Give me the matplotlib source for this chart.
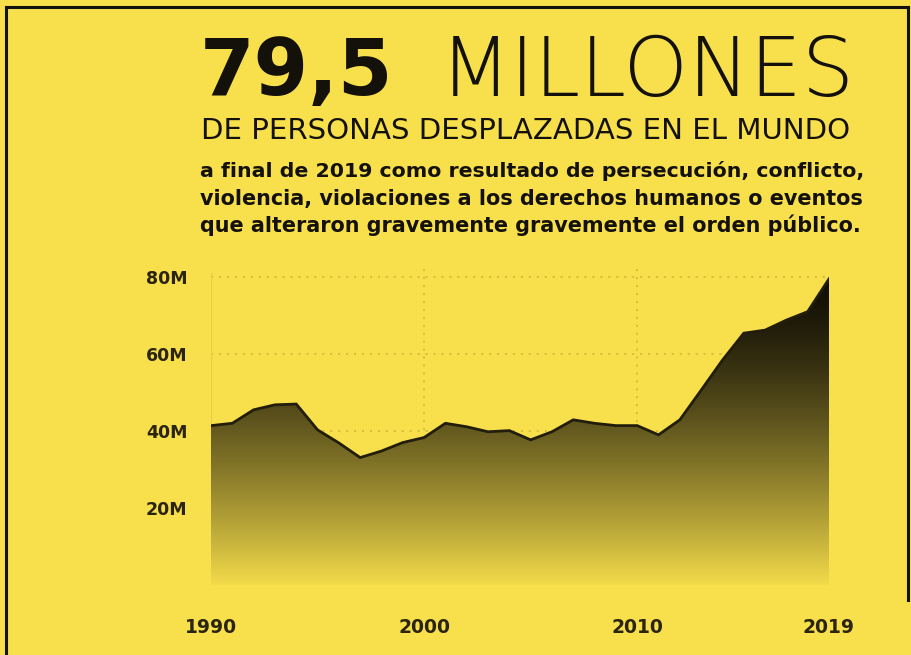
import numpy as np
import matplotlib
matplotlib.use("Agg")
import matplotlib.pyplot as plt
from matplotlib.patches import Polygon
from matplotlib.lines import Line2D

# ---------------- data ----------------
years = [1990, 1991, 1992, 1993, 1994, 1995, 1996, 1997, 1998, 1999,
         2000, 2001, 2002, 2003, 2004, 2005, 2006, 2007, 2008, 2009,
         2010, 2011, 2012, 2013, 2014, 2015, 2016, 2017, 2018, 2019]
displaced_m = [41.4, 42.0, 45.5, 46.8, 47.0, 40.3, 36.9, 33.1, 34.8, 37.0,
               38.3, 42.0, 41.1, 39.8, 40.1, 37.7, 39.8, 42.9, 42.0, 41.4,
               41.4, 39.0, 42.9, 50.6, 58.4, 65.4, 66.2, 68.8, 71.0, 79.5]
y_ticks = [20, 40, 60, 80]
y_labels = ["20M", "40M", "60M", "80M"]
x_ticks = [1990, 2000, 2010, 2019]
x_labels = ["1990", "2000", "2010", "2019"]

title_num = "79,5"
title_word = "MILLONES"
subtitle = "DE PERSONAS DESPLAZADAS EN EL MUNDO"
body = ["a final de 2019 como resultado de persecución, conflicto,",
        "violencia, violaciones a los derechos humanos o eventos",
        "que alteraron gravemente gravemente el orden público."]

# ---------------- style ----------------
BG = "#F8E04C"
INK = "#14110a"
W, H = 912, 655
WIDE = ["DejaVu Sans"]

fig = plt.figure(figsize=(W / 100, H / 100), dpi=100)
fig.patch.set_facecolor(BG)

def fx(px):
    return px / W

def fy(py):
    return 1 - py / H

# axes: x 1990 -> px 211, 2019 -> px 829 ; y 0 -> px 585, 84 -> px 261.6
ymax = 84
ax_l, ax_r = 211, 829
ax_b = 585
ax_t = 585 - ymax * 3.85
ax = fig.add_axes([fx(ax_l), fy(ax_b), fx(ax_r) - fx(ax_l), (ax_b - ax_t) / H])
ax.set_facecolor("none")
ax.set_xlim(1990, 2019)
ax.set_ylim(0, ymax)
for s in ax.spines.values():
    s.set_visible(False)

# grid
grid_c = "#d4bd3a"
for v in [40, 60, 80]:
    ax.plot([1990, 2019], [v, v], color=grid_c, lw=1.3, ls=(0, (1.2, 3.2)), zorder=1)
for xv in [2000, 2010]:
    ax.plot([xv, xv], [-1, 83], color=grid_c, lw=1.3, ls=(0, (1.2, 3.2)), zorder=1)
ax.plot([1990, 1990], [-1, 81], color="#e6cf45", lw=1.0, zorder=1)

# gradient fill clipped to the area under the curve
yy = np.linspace(0, 80, 400)
f = (1 - yy / 80.0) ** 1.4
bg_rgb = np.array(matplotlib.colors.to_rgb(BG))
top_rgb = np.array(matplotlib.colors.to_rgb("#100d05"))
cols = top_rgb[None, :] + (bg_rgb - top_rgb)[None, :] * f[:, None]
img = np.repeat(cols[:, None, :], 2, axis=1)
im = ax.imshow(img, extent=[1990, 2019, -1.3, 80], origin="lower",
               aspect="auto", interpolation="bilinear", zorder=2)
clip = Polygon([(years[0], -1.3)] + list(zip(years, displaced_m)) + [(years[-1], -1.3)],
               closed=True, facecolor="none", edgecolor="none", transform=ax.transData)
ax.add_patch(clip)
im.set_clip_path(clip)
ax.plot(years, displaced_m, color="#221d0c", lw=2.0, zorder=3, solid_joinstyle="miter")

# ticks
ax.set_yticks(y_ticks)
ax.set_yticklabels(y_labels)
ax.set_xticks(x_ticks)
ax.set_xticklabels(x_labels)
ax.tick_params(axis="both", length=0, labelcolor="#2b2410")
ax.tick_params(axis="y", pad=17)
ax.tick_params(axis="x", pad=24)
for lab in ax.get_yticklabels():
    lab.set_fontfamily(WIDE)
    lab.set_fontweight("bold")
    lab.set_fontsize(12.5)
for lab in ax.get_xticklabels():
    lab.set_fontfamily(WIDE)
    lab.set_fontweight("bold")
    lab.set_fontsize(13.5)

# ---------------- texts, fitted to target widths ----------------
def fit_text(x0, x1, base_y, s, weight, size, family, color=INK):
    t = fig.text(fx(x0), fy(base_y), s, ha="left", va="baseline",
                 fontsize=size, fontweight=weight, family=family, color=color)
    fig.canvas.draw()
    bb = t.get_window_extent()
    t.set_fontsize(size * (x1 - x0) / bb.width)
    return t

fit_text(200, 394, 95, title_num, "bold", 60, WIDE)
fit_text(440, 855, 96, title_word, 200, 60, ["DejaVu Sans"])
fit_text(201, 854, 139, subtitle, "normal", 18, WIDE)
fit_text(200, 858, 177, body[0], "bold", 13, WIDE)
fit_text(200, 858, 205, body[1], "bold", 13, WIDE)
fit_text(200, 858, 232, body[2], "bold", 13, WIDE)

# outer frame (top, left, right)
frame_kw = dict(color="#111111", lw=2.2, transform=fig.transFigure)
fig.add_artist(Line2D([fx(6), fx(908)], [fy(7), fy(7)], **frame_kw))
fig.add_artist(Line2D([fx(6), fx(6)], [fy(7), fy(655)], **frame_kw))
fig.add_artist(Line2D([fx(908), fx(908)], [fy(7), fy(600)], **frame_kw))

fig.savefig("out.png", dpi=100, facecolor=BG)
